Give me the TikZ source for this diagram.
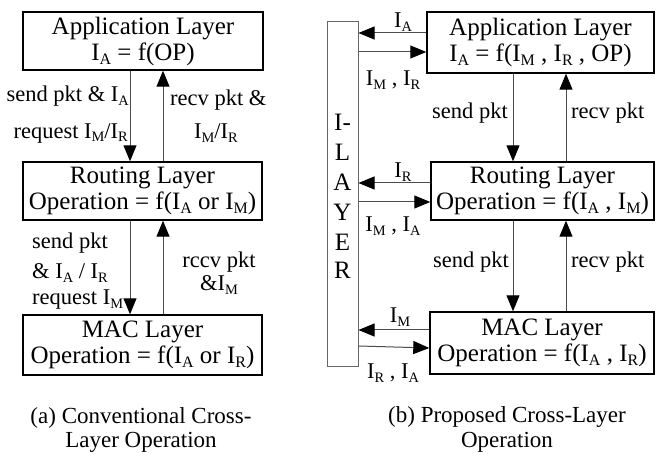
\documentclass[tikz,border=0pt]{standalone}
\usepackage{fontspec}
\usepackage{graphicx}
\setmainfont{Liberation Serif}
\usetikzlibrary{arrows.meta}
\newcommand\lo[1]{\raisebox{-0.35ex}{\scalebox{0.64}{#1}}}
\tikzset{
  layerbox/.style={draw=black, line width=1.4pt, inner sep=0pt, align=center,
    font=\fontsize{25}{28}\selectfont},
  ibox/.style={draw=gray!80!black, line width=1pt, inner sep=0pt},
  arr/.style={draw=gray!60!black, line width=1pt,
    -{Triangle[length=16pt,width=13pt,color=black]}},
  lbl/.style={inner sep=0pt, font=\fontsize{22.5}{26}\selectfont},
  captext/.style={inner sep=0pt, font=\fontsize{23}{27}\selectfont},
  ilet/.style={inner sep=0pt, font=\fontsize{25}{28}\selectfont}
}
\begin{document}
\begin{tikzpicture}[x=1pt,y=-1pt]
\useasboundingbox (0,0) rectangle (657,454);
% ---- left panel ----
\node[layerbox, minimum width=240pt, minimum height=58pt] (appL) at (143,41)
  {Application Layer\\[-2pt] I\lo{A} = f(OP)};
\node[layerbox, minimum width=239pt, minimum height=58pt] (rouL) at (142.5,191)
  {Routing Layer\\[-2pt] Operation = f(I\lo{A} or I\lo{M})};
\node[layerbox, minimum width=239pt, minimum height=60pt] (macL) at (142.5,345)
  {MAC Layer\\[-2pt] Operation = f(I\lo{A} or I\lo{R})};
\draw[arr] ([xshift=-13pt]appL.south) -- ([xshift=-12.5pt]rouL.north);
\draw[arr] ([xshift=20.5pt]rouL.north) -- ([xshift=20pt]appL.south);
\draw[arr] ([xshift=-12.5pt]rouL.south) -- ([xshift=-12.5pt]macL.north);
\draw[arr] ([xshift=20.5pt]macL.north) -- ([xshift=20.5pt]rouL.south);
\node[lbl, anchor=east] (l1) at (129,96) {send pkt \& I\lo{A}};
\node[lbl, anchor=east] (l2) at (128,133) {request I\lo{M}/I\lo{R}};
\node[lbl, anchor=west] (l3) at (170,100) {recv pkt \&};
\node[lbl] (l4) at (216,133) {I\lo{M}/I\lo{R}};
\node[lbl, anchor=west] (l5) at (32,243) {send pkt};
\node[lbl, anchor=west] (l6) at (32,273) {\& I\lo{A} / I\lo{R}};
\node[lbl, anchor=west] (l7) at (32,300) {request I\lo{M}};
\node[lbl] (l8) at (219,262) {rccv pkt};
\node[lbl] (l9) at (219,285) {\&I\lo{M}};
\node[captext] (ca1) at (141,418) {(a) Conventional Cross-};
\node[captext] (ca2) at (141,442) {Layer Operation};
% ---- right panel ----
\node[ibox, minimum width=31pt, minimum height=345pt] (ilay) at (342.5,194.5) {};
\foreach \t/\yy [count=\i] in {I-/122, L/152, A/182, Y/212, E/242, R/270}
  \node[ilet] (il\i) at (342.5,\yy) {\t};
\node[layerbox, minimum width=227pt, minimum height=61pt] (appR) at (540.5,42.5)
  {Application Layer\\[-2pt] I\lo{A} = f(I\lo{M} , I\lo{R} , OP)};
\node[layerbox, minimum width=223pt, minimum height=58pt] (rouR) at (542.5,191)
  {Routing Layer\\[-2pt] Operation = f(I\lo{A} , I\lo{M})};
\node[layerbox, minimum width=224pt, minimum height=62pt] (macR) at (542,343)
  {MAC Layer\\[-2pt] Operation = f(I\lo{A} , I\lo{R})};
% vertical arrows
\draw[arr] ([xshift=-27.5pt]appR.south) -- ([xshift=-29.5pt]rouR.north);
\draw[arr] ([xshift=23.5pt]rouR.north) -- ([xshift=25.5pt]appR.south);
\draw[arr] ([xshift=-29.5pt]rouR.south) -- ([xshift=-29pt]macR.north);
\draw[arr] ([xshift=24pt]macR.north) -- ([xshift=23.5pt]rouR.south);
% horizontal arrows
\coordinate (a1) at ([yshift=9.5pt]appR.west);
\coordinate (a2) at ([yshift=-9.5pt]appR.west);
\coordinate (r1) at ([yshift=8pt]rouR.west);
\coordinate (r2) at ([yshift=-11pt]rouR.west);
\coordinate (m1) at ([yshift=13pt]macR.west);
\coordinate (m2) at ([yshift=-5pt]macR.west);
\draw[arr] (a1) -- (a1 -| ilay.east);
\draw[arr] (a2 -| ilay.east) -- (a2);
\draw[arr] (r1) -- (r1 -| ilay.east);
\draw[arr] (r2 -| ilay.east) -- (r2);
\draw[arr] (m1) -- (m1 -| ilay.east);
\draw[arr] ([yshift=2pt]m2 -| ilay.east) -- (m2);
\node[lbl] (h1) at (403,22) {I\lo{A}};
\node[lbl] (h2) at (393,80) {I\lo{M} , I\lo{R}};
\node[lbl] (h3) at (403,172) {I\lo{R}};
\node[lbl] (h4) at (393,226) {I\lo{M} , I\lo{A}};
\node[lbl] (h5) at (400,317) {I\lo{M}};
\node[lbl] (h6) at (393,373) {I\lo{R} , I\lo{A}};
\node[lbl, anchor=east] (v1) at (508,113) {send pkt};
\node[lbl, anchor=west] (v2) at (571,113) {recv pkt};
\node[lbl, anchor=east] (v3) at (509,262) {send pkt};
\node[lbl, anchor=west] (v4) at (571,262) {recv pkt};
\node[captext] (cb1) at (507,417) {(b) Proposed Cross-Layer};
\node[captext] (cb2) at (507,442) {Operation};
\end{tikzpicture}
\end{document}
